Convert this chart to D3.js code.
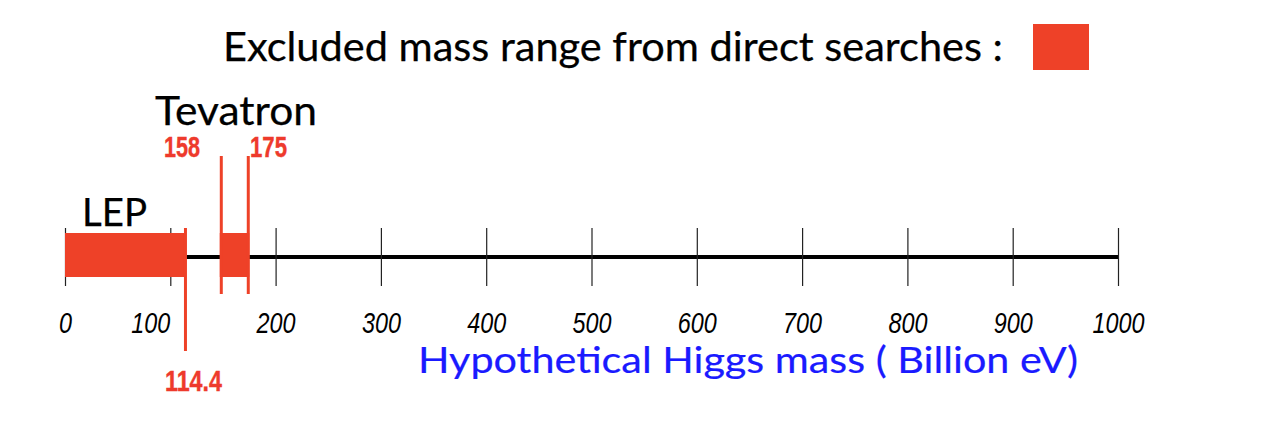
<!DOCTYPE html>
<html>
<head>
<meta charset="utf-8">
<script src="https://cdn.jsdelivr.net/npm/d3@7"></script>
<style>
  html, body { margin: 0; padding: 0; background: #fff; }
  svg { display: block; }
</style>
</head>
<body>
<svg id="chart" width="1274" height="426"></svg>
<script>
// ---- data ----
const tickValues = [0, 100, 200, 300, 400, 500, 600, 700, 800, 900, 1000];
const tickLabels = ["0", "100", "200", "300", "400", "500", "600", "700", "800", "900", "1000"];
const experiments = ["LEP", "Tevatron"];
const rangeStart = [0, 147];      // drawn start of excluded band (as in picture)
const rangeEnd = [114.4, 175];    // drawn end of excluded band
const edgeLabels = ["114.4", "158", "175"];
const titleText = "Excluded mass range from direct searches :";
const axisTitle = "Hypothetical Higgs mass ( Billion eV)";

// ---- setup ----
const svg = d3.select("#chart");
const RED = "#ee4128";
const RED_TXT = "#ee3a2c";
const SANS = "Lato, 'Open Sans', sans-serif";
const x = d3.scaleLinear().domain([0, 1000]).range([65, 1118]);
const axisY = 257;

// title + legend swatch
svg.append("text")
  .attr("x", 223).attr("y", 61)
  .attr("font-family", SANS)
  .attr("font-size", 40)
  .attr("textLength", 780).attr("lengthAdjust", "spacingAndGlyphs")
  .attr("fill", "#000").attr("stroke", "#000").attr("stroke-width", 0.25)
  .text(titleText);
svg.append("rect")
  .attr("x", 1033).attr("y", 24).attr("width", 56).attr("height", 46)
  .attr("fill", RED);

// axis main line
svg.append("line")
  .attr("x1", x(0)).attr("x2", x(1000))
  .attr("y1", axisY).attr("y2", axisY)
  .attr("stroke", "#000").attr("stroke-width", 4);

// ticks via d3 axis
const axis = d3.axisBottom(x).tickValues(tickValues)
  .tickFormat((d, i) => tickLabels[i]).tickSize(0).tickSizeOuter(0);
const ag = svg.append("g").attr("transform", `translate(0,${axisY})`).call(axis);
ag.select(".domain").remove();
ag.selectAll(".tick line")
  .attr("y1", -29).attr("y2", 29)
  .attr("stroke", "#222").attr("stroke-width", 1.2);
ag.selectAll(".tick text")
  .attr("y", 76).attr("dy", 0)
  .attr("dx", d => d === 100 ? -20 : 0)
  .attr("font-family", "'Liberation Sans Narrow', 'Liberation Sans', Arial, sans-serif")
  .attr("font-style", "italic")
  .attr("font-size", 29)
  .attr("textLength", (d, i) => tickLabels[i].length * 13)
  .attr("lengthAdjust", "spacingAndGlyphs")
  .attr("fill", "#000");

// excluded bands
svg.selectAll("rect.band")
  .data(experiments)
  .join("rect")
  .attr("class", "band")
  .attr("x", (d, i) => x(rangeStart[i]))
  .attr("width", (d, i) => x(rangeEnd[i]) - x(rangeStart[i]))
  .attr("y", 233).attr("height", 44)
  .attr("fill", RED);

// edge marker lines
const edges = [
  { v: rangeEnd[0], off: 0, y1: 228, y2: 351 },
  { v: rangeStart[1], off: 1.5, y1: 156, y2: 294 },
  { v: rangeEnd[1], off: -1, y1: 156, y2: 294 }
];
svg.selectAll("line.edge")
  .data(edges)
  .join("line")
  .attr("class", "edge")
  .attr("x1", d => x(d.v) + d.off)
  .attr("x2", d => x(d.v) + d.off)
  .attr("y1", d => d.y1).attr("y2", d => d.y2)
  .attr("stroke", RED).attr("stroke-width", 3);

// edge value labels
const redFont = "'Liberation Sans Narrow', 'Liberation Sans', Arial, sans-serif";
const edgeLab = [
  { t: edgeLabels[0], x: 165, y: 391, w: 57 },
  { t: edgeLabels[1], x: 164, y: 157, w: 36 },
  { t: edgeLabels[2], x: 250, y: 157, w: 37 }
];
svg.selectAll("text.edgeLab")
  .data(edgeLab)
  .join("text")
  .attr("class", "edgeLab")
  .attr("x", d => d.x).attr("y", d => d.y)
  .attr("font-family", redFont)
  .attr("font-weight", "bold")
  .attr("font-size", 29)
  .attr("textLength", d => d.w).attr("lengthAdjust", "spacingAndGlyphs")
  .attr("fill", RED_TXT).attr("stroke", RED_TXT).attr("stroke-width", 0.4)
  .text(d => d.t);

// experiment names
svg.append("text")
  .attr("x", 82).attr("y", 226)
  .attr("font-family", SANS)
  .attr("font-size", 39)
  .attr("textLength", 65).attr("lengthAdjust", "spacingAndGlyphs")
  .attr("fill", "#000").attr("stroke", "#000").attr("stroke-width", 0.25)
  .text(experiments[0]);
svg.append("text")
  .attr("x", 155).attr("y", 125)
  .attr("font-family", SANS)
  .attr("font-size", 40)
  .attr("textLength", 162).attr("lengthAdjust", "spacingAndGlyphs")
  .attr("fill", "#000").attr("stroke", "#000").attr("stroke-width", 0.25)
  .text(experiments[1]);

// axis title
svg.append("text")
  .attr("x", 418).attr("y", 373)
  .attr("font-family", SANS)
  .attr("font-size", 37)
  .attr("textLength", 660).attr("lengthAdjust", "spacingAndGlyphs")
  .attr("fill", "#1a1aff").attr("stroke", "#1a1aff").attr("stroke-width", 0.2)
  .text(axisTitle);
</script>
</body>
</html>
